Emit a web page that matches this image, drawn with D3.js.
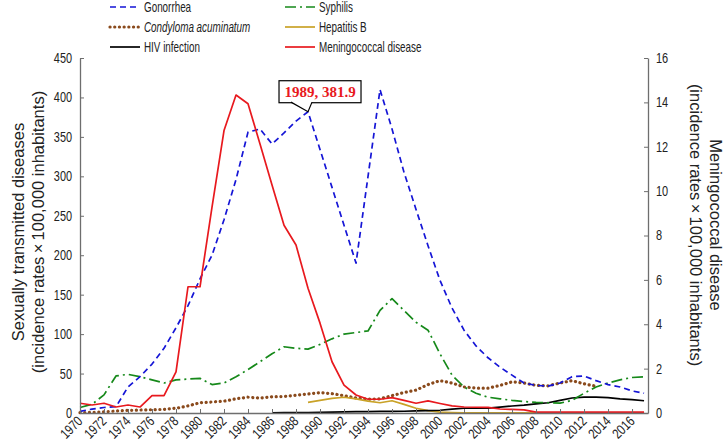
<!DOCTYPE html>
<html><head><meta charset="utf-8">
<script src="https://cdn.jsdelivr.net/npm/d3@7"></script>
<style>
body{margin:0;background:#fff;}
svg{display:block;}
text{font-family:"Liberation Sans",Arial,sans-serif;}
</style></head>
<body><svg id="c" width="724" height="447"></svg>
<script>
const years = d3.range(1970, 2018);
const xTickYears = d3.range(1970, 2017, 2);
const leftTicks = [0,50,100,150,200,250,300,350,400,450];
const rightTicks = [0,2,4,6,8,10,12,14,16];

// left axis units (incidence per 100,000)
const gonorrhea = [2,5,7,8,33,46,62,82,108,136,170,200,245,296,356,360,341,355,370,381.9,334,286,238,190,300,410,360,305,258,212,168,133,105,85,70,58,48,38,35,34,38,46,47,41,36,33,28,25];
const syphilis = [7,11,23,47,49,46,42,38,42,43,44,36,38,46,55,65,75,84,82,81,87,94,100,102,104,130,145,130,115,105,75,48,33,25,20,18,16,14.5,13.5,13,12.5,16,25,33,38,42,45,46];
const condyloma = [0.5,0.8,1.5,2.5,3.3,3.8,4.2,4.6,6,9,13,14,15,18,20,19,20.5,21,22.5,24,25.7,24.5,22,19,17.5,18,22,26,29,36,41,38,33,31.5,31.5,35,39.5,38,35,34.5,38,41,37,34,null,null,null,null];
const hepatitisB = [null,null,null,null,null,null,null,null,null,null,null,null,null,null,null,null,null,null,null,13.5,16,18.5,20,18,15,13,15.5,11,6,3,1,0.5,0.3,0.3,0.3,0.3,0.3,0.3,0.3,0.3,0.3,0.3,0.3,0.3,0.3,0.3,0.3,0.3];
const hiv = [null,null,null,null,null,null,null,null,null,null,null,null,null,null,null,null,0.3,0.4,0.5,0.6,0.8,1.2,1.5,1.8,1.8,2,2,2.2,2.7,3,3.5,5,6,6,6.2,7.5,8.9,10,11.5,13,16,19,20,20,19.5,18,17,15.5];
// right axis units
const meningococcal = [0.44,0.36,0.44,0.27,0.36,0.27,0.78,0.78,1.85,5.69,5.69,9.28,12.73,14.33,13.94,12.12,10.28,8.46,7.57,5.62,4.05,2.31,1.26,0.81,0.62,0.62,0.69,0.57,0.44,0.55,0.43,0.32,0.27,0.26,0.25,0.18,0.16,0.14,0.04,0.04,0.04,0.04,0.04,0.04,0.04,0.04,0.04,0.04];

const annotation = {year:1989, value:381.9, label:"1989, 381.9"};

const svg = d3.select("#c");
const L=80, R=648, T=58, B=413;
const x = d3.scaleLinear().domain([1970, 2017.33]).range([L, R]);
const yL = d3.scaleLinear().domain([0, 450]).range([B, T]);
const yR = d3.scaleLinear().domain([0, 16]).range([B, T]);

const axisColor = "#6e6e6e";
function condense(sel, k){
  sel.each(function(){
    const w = this.getComputedTextLength();
    d3.select(this).attr("textLength", (w*k).toFixed(1)).attr("lengthAdjust","spacingAndGlyphs");
  });
}

// series
const series = [
  {name:"Gonorrhea", data:gonorrhea, y:yL, color:"#1515d6", dash:"6,4", w:1.7, cap:"butt"},
  {name:"Syphilis", data:syphilis, y:yL, color:"#16891a", dash:"11,4,2,4", w:1.7, cap:"butt"},
  {name:"Condyloma acuminatum", data:condyloma, y:yL, color:"#8a4a1c", dash:"0.1,4.6", w:3.2, cap:"round", italic:true},
  {name:"Hepatitis B", data:hepatitisB, y:yL, color:"#c9a227", dash:null, w:1.7, cap:"butt"},
  {name:"HIV infection", data:hiv, y:yL, color:"#000000", dash:null, w:1.7, cap:"butt"},
  {name:"Meningococcal disease", data:meningococcal, y:yR, color:"#e8191e", dash:null, w:1.7, cap:"butt"}
];
const drawOrder = [2,3,4,1,0,5];
drawOrder.forEach(i=>{
  const s = series[i];
  const line = d3.line().defined(d=>d[1]!=null).x(d=>x(d[0])).y(d=>s.y(d[1]));
  svg.append("path").datum(years.map((yr,k)=>[yr, s.data[k]]))
    .attr("d", line).attr("fill","none").attr("stroke", s.color)
    .attr("stroke-width", s.w).attr("stroke-dasharray", s.dash)
    .attr("stroke-linecap", s.cap).attr("stroke-linejoin","round");
});

// axes
const gL = svg.append("g").attr("transform",`translate(${L},0)`)
  .call(d3.axisLeft(yL).tickValues(leftTicks).tickSize(-4).tickSizeOuter(0).tickPadding(8));
const gR = svg.append("g").attr("transform",`translate(${R},0)`)
  .call(d3.axisRight(yR).tickValues(rightTicks).tickSize(-4).tickSizeOuter(0).tickPadding(8));
const gX = svg.append("g").attr("transform",`translate(0,${B})`)
  .call(d3.axisBottom(x).tickValues(xTickYears).tickFormat(d3.format("d")).tickSize(-4).tickSizeOuter(0).tickPadding(0));
[gL,gR,gX].forEach(g=>{
  g.selectAll("path.domain").attr("stroke",axisColor).attr("stroke-width",1.3);
  g.selectAll(".tick line").attr("stroke",axisColor).attr("stroke-width",1);
  g.selectAll("text").attr("fill","#222").style("font-size","14px").style("font-family",'"Liberation Sans",Arial,sans-serif');
});
gX.selectAll(".tick text").attr("text-anchor","end").attr("dy",null).attr("y",0)
  .attr("transform","translate(3,9) rotate(-45)");
condense(gL.selectAll(".tick text"), 0.78);
condense(gR.selectAll(".tick text"), 0.78);
condense(gX.selectAll(".tick text"), 0.8);

// axis titles
const titleStyle = t=>t.attr("fill","#222").style("font-size","16.5px").attr("text-anchor","middle");
svg.append("text").attr("transform","translate(24,232) rotate(-90)").text("Sexually transmitted diseases").call(titleStyle);
svg.append("text").attr("transform","translate(44,232) rotate(-90)").text("(incidence rates\u2009\u00d7\u2009100,000 inhabitants)").call(titleStyle);
svg.append("text").attr("transform","translate(710,225) rotate(90)").text("Meningococcal disease").call(titleStyle);
svg.append("text").attr("transform","translate(690,225) rotate(90)").text("(incidence rates\u2009\u00d7\u2009100,000 inhabitants)").call(titleStyle);

// legend
const legendPos = [[0,0],[1,0],[0,1],[1,1],[0,2],[1,2]];
series.forEach((s,k)=>{
  const [c,r] = legendPos[k];
  const lx = c===0 ? 110 : 285, ly = 7 + r*20;
  svg.append("line").attr("x1",lx).attr("x2",lx+30).attr("y1",ly).attr("y2",ly)
    .attr("stroke",s.color).attr("stroke-width",s.w).attr("stroke-dasharray",s.dash).attr("stroke-linecap",s.cap);
  const t = svg.append("text").attr("x",lx+34).attr("y",ly+5).text(s.name)
    .attr("fill","#222").style("font-size","14.5px").style("font-style", s.italic?"italic":"normal");
  condense(t, 0.68);
});

// annotation
const px = x(annotation.year), py = yL(annotation.value);
const ag = svg.append("g");
ag.append("rect").attr("x",px-29).attr("y",py-31).attr("width",82).attr("height",22)
  .attr("fill","#fff").attr("stroke","#000").attr("stroke-width",1.2);
ag.append("path").attr("d",`M${px-17},${py-9.6} L${px},${py} L${px+4},${py-9.6}`)
  .attr("fill","#fff").attr("stroke","#000").attr("stroke-width",1.2);
ag.append("text").attr("x",px+12).attr("y",py-14.5).attr("text-anchor","middle").text(annotation.label)
  .style("font-family",'"Liberation Serif","Times New Roman",serif').style("font-weight","bold")
  .style("font-size","15px").attr("fill","#e8191e");
</script></body></html>
